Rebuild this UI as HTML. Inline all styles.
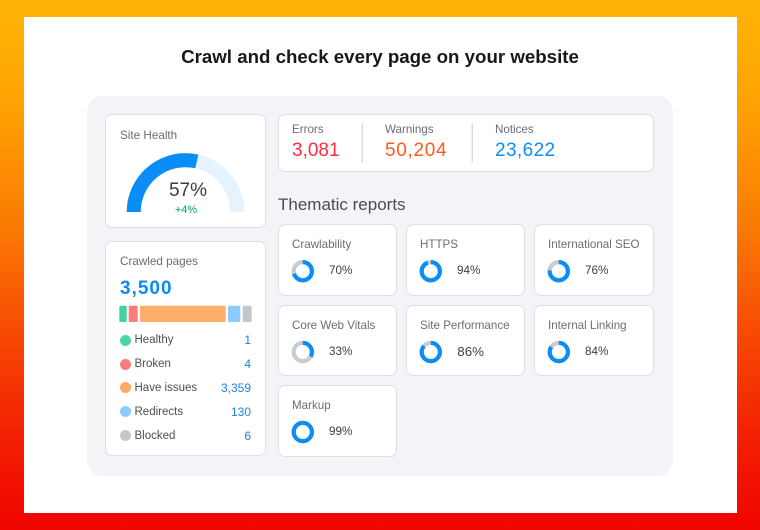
<!DOCTYPE html>
<html><head><meta charset="utf-8"><style>
*{margin:0;padding:0;box-sizing:border-box}
html,body{width:760px;height:530px;overflow:hidden}
body{position:relative;font-family:"Liberation Sans",sans-serif;background:linear-gradient(to bottom,#FFB405 0%,#FEA204 20%,#FB7C03 42%,#F74C04 62%,#F32002 82%,#F00400 100%)}
.abs{position:absolute}
.white{left:24px;top:17px;width:713px;height:496px;background:#fff}
.title{left:0;width:760px;top:47px;font-size:18.7px;line-height:19px;font-weight:bold;color:#17171c;text-align:center;white-space:nowrap}
.panel{left:87px;top:96px;width:586px;height:380px;background:#F3F4F8;border-radius:16px}
.card{position:absolute;background:#fff;border:1.5px solid #DDDFE6;border-radius:7px}
.t{position:absolute;white-space:nowrap;z-index:3}
.lbl{font-size:11.6px;line-height:12px;color:#6B6D78}
.num{font-size:19px;line-height:19px;letter-spacing:0.4px}
.lg{font-size:11.5px;line-height:12px;color:#4C4E59}
.lv{font-size:12px;line-height:12px;color:#1E82E2;text-align:right;width:60px}
.dot{position:absolute;width:11px;height:11px;border-radius:50%;z-index:3}
.pct{font-size:11.7px;line-height:12px;color:#3D3E49}
svg.ov{position:absolute;left:0;top:0;z-index:2}
</style></head><body>
<div class="abs white"></div>
<div class="abs title">Crawl and check every page on your website</div>
<div class="abs panel"></div>

<!-- cards -->
<div class="card" style="left:105px;top:114px;width:161px;height:114px"></div>
<div class="card" style="left:278px;top:114px;width:376px;height:58px"></div>
<div class="card" style="left:105px;top:241px;width:161px;height:215px"></div>
<div class="card" style="left:278px;top:224px;width:119px;height:72px"></div>
<div class="card" style="left:406px;top:224px;width:119px;height:72px"></div>
<div class="card" style="left:534px;top:224px;width:120px;height:72px"></div>
<div class="card" style="left:278px;top:305px;width:119px;height:71px"></div>
<div class="card" style="left:406px;top:305px;width:119px;height:71px"></div>
<div class="card" style="left:534px;top:305px;width:120px;height:71px"></div>
<div class="card" style="left:278px;top:385px;width:119px;height:72px"></div>

<svg class="ov" width="760" height="530">
  <path d="M133.7 212 A51.8 51.8 0 0 1 237.3 212" fill="none" stroke="#E4F3FE" stroke-width="14"/>
  <path d="M133.7 212 A51.8 51.8 0 0 1 196.8 161.45" fill="none" stroke="#0B8DF6" stroke-width="14"/>
  <!-- bar -->
  <rect x="119.3" y="305.7" width="7.4" height="16.3" rx="1" fill="#43D39E"/>
  <rect x="128.7" y="305.7" width="9" height="16.3" rx="1" fill="#FF7B7E"/>
  <rect x="140" y="305.7" width="85.7" height="16.3" rx="1" fill="#FFAE69"/>
  <rect x="228" y="305.7" width="12.3" height="16.3" rx="1" fill="#8CCBFF"/>
  <rect x="242.7" y="305.7" width="9" height="16.3" rx="1" fill="#C3C6CE"/>
  <!-- dividers -->
  <line x1="362.3" y1="123.3" x2="362.3" y2="162.7" stroke="#DADCE3" stroke-width="1.5"/>
  <line x1="472.3" y1="123.3" x2="472.3" y2="162.7" stroke="#DADCE3" stroke-width="1.5"/>
  <g fill="none" stroke-width="4.2">
    <!-- r=9.1 circumference 57.18 -->
    <g transform="translate(302.8 271.2) rotate(-90)"><circle r="9.1" stroke="#C9CBD2"/><circle r="9.1" stroke="#0B8DF8" stroke-dasharray="40.03 100"/></g>
    <g transform="translate(430.8 271.2) rotate(-90)"><circle r="9.1" stroke="#C9CBD2"/><circle r="9.1" stroke="#0B8DF8" stroke-dasharray="53.75 100"/></g>
    <g transform="translate(558.8 271.2) rotate(-90)"><circle r="9.1" stroke="#C9CBD2"/><circle r="9.1" stroke="#0B8DF8" stroke-dasharray="43.46 100"/></g>
    <g transform="translate(302.8 352) rotate(-90)"><circle r="9.1" stroke="#C9CBD2"/><circle r="9.1" stroke="#0B8DF8" stroke-dasharray="18.87 100"/></g>
    <g transform="translate(430.8 352) rotate(-90)"><circle r="9.1" stroke="#C9CBD2"/><circle r="9.1" stroke="#0B8DF8" stroke-dasharray="49.17 100"/></g>
    <g transform="translate(558.8 352) rotate(-90)"><circle r="9.1" stroke="#C9CBD2"/><circle r="9.1" stroke="#0B8DF8" stroke-dasharray="48.03 100"/></g>
    <g transform="translate(302.8 432) rotate(-90)"><circle r="9.1" stroke="#C9CBD2"/><circle r="9.1" stroke="#0B8DF8" stroke-dasharray="56.61 100"/></g>
  </g>
</svg>

<!-- Site Health -->
<div class="t lbl" style="left:120px;top:129.6px;font-size:11.7px">Site Health</div>
<div class="t" style="left:148px;width:80px;text-align:center;top:181.3px;font-size:19px;line-height:19px;color:#3A3B46">57%</div>
<div class="t" style="left:146px;width:80px;text-align:center;top:204.8px;font-size:11px;line-height:11px;color:#00A37C">+4%</div>

<!-- Errors card -->
<div class="t lbl" style="left:292px;top:124.2px">Errors</div>
<div class="t lbl" style="left:385px;top:124.2px">Warnings</div>
<div class="t lbl" style="left:495px;top:124.2px">Notices</div>
<div class="t num" style="left:292px;top:141.3px;color:#FF2B3E;letter-spacing:0">3,081</div>
<div class="t num" style="left:385px;top:141.3px;color:#FF5A1F;letter-spacing:0.7px">50,204</div>
<div class="t num" style="left:495px;top:141.3px;color:#0A8DF8">23,622</div>

<div class="t" style="left:278px;top:195.7px;font-size:17px;line-height:17px;color:#4A4B56">Thematic reports</div>

<!-- Crawled pages -->
<div class="t lbl" style="left:120px;top:255.8px;font-size:11.7px">Crawled pages</div>
<div class="t" style="left:120px;top:278.8px;font-size:19px;line-height:19px;font-weight:bold;color:#0A8BF5;letter-spacing:1px">3,500</div>

<div class="dot" style="left:119.5px;top:334.5px;background:#4BD6A2"></div>
<div class="t lg" style="left:134.5px;top:334.3px">Healthy</div>
<div class="t lv" style="left:191px;top:334px">1</div>

<div class="dot" style="left:119.5px;top:358.5px;background:#FF7A7D"></div>
<div class="t lg" style="left:134.5px;top:358.3px">Broken</div>
<div class="t lv" style="left:191px;top:358px">4</div>

<div class="dot" style="left:119.5px;top:382.3px;background:#FFAB66"></div>
<div class="t lg" style="left:134.5px;top:382px">Have issues</div>
<div class="t lv" style="left:191px;top:381.7px">3,359</div>

<div class="dot" style="left:119.5px;top:406.2px;background:#8CCBFF"></div>
<div class="t lg" style="left:134.5px;top:406px">Redirects</div>
<div class="t lv" style="left:191px;top:405.7px">130</div>

<div class="dot" style="left:119.5px;top:430px;background:#C4C7CF"></div>
<div class="t lg" style="left:134.5px;top:429.7px">Blocked</div>
<div class="t lv" style="left:191px;top:429.5px">6</div>

<!-- Thematic labels -->
<div class="t lbl" style="left:292px;top:239.3px">Crawlability</div>
<div class="t lbl" style="left:420px;top:239.3px">HTTPS</div>
<div class="t lbl" style="left:548px;top:239.3px">International SEO</div>
<div class="t lbl" style="left:292px;top:320px">Core Web Vitals</div>
<div class="t lbl" style="left:420px;top:320px">Site Performance</div>
<div class="t lbl" style="left:548px;top:320px">Internal Linking</div>
<div class="t lbl" style="left:292px;top:400.3px">Markup</div>

<div class="t pct" style="left:329px;top:264.8px">70%</div>
<div class="t pct" style="left:457px;top:264.8px">94%</div>
<div class="t pct" style="left:585px;top:264.8px">76%</div>
<div class="t pct" style="left:329px;top:345.5px">33%</div>
<div class="t pct" style="left:457.3px;top:345px;font-size:13.3px;line-height:13px">86%</div>
<div class="t pct" style="left:585px;top:345.5px">84%</div>
<div class="t pct" style="left:329px;top:425.8px">99%</div>
</body></html>
